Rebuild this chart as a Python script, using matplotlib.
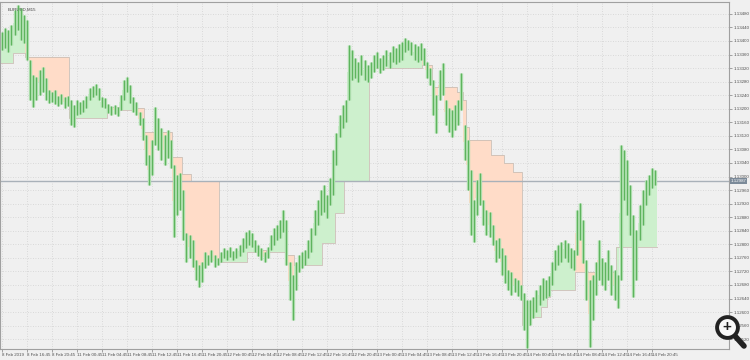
import numpy as np
import matplotlib.pyplot as plt
from matplotlib.lines import Line2D

plt.rcParams['font.family'] = ['Liberation Sans', 'DejaVu Sans']

# EURUSD 30-min bars (high / low)
highs = [1.13426, 1.13438, 1.13432, 1.13447, 1.13491, 1.13506, 1.13497, 1.13477, 1.13462, 1.13344,
         1.13300, 1.13294, 1.13314, 1.13323, 1.13291, 1.13255, 1.13249, 1.13255, 1.13238, 1.13244,
         1.13235, 1.13238, 1.13226, 1.13211, 1.13226, 1.13220, 1.13226, 1.13238, 1.13261, 1.13267,
         1.13273, 1.13261, 1.13235, 1.13232, 1.13214, 1.13208, 1.13211, 1.13205, 1.13241, 1.13285,
         1.13294, 1.13270, 1.13235, 1.13220, 1.13190, 1.13173, 1.13122, 1.13063, 1.13108, 1.13205,
         1.13173, 1.13143, 1.13122, 1.13137, 1.13108, 1.13034, 1.13004, 1.13010, 1.12960, 1.12833,
         1.12827, 1.12812, 1.12753, 1.12739, 1.12748, 1.12777, 1.12768, 1.12783, 1.12768, 1.12759,
         1.12777, 1.12789, 1.12783, 1.12792, 1.12780, 1.12789, 1.12798, 1.12818, 1.12836, 1.12842,
         1.12833, 1.12812, 1.12798, 1.12789, 1.12777, 1.12792, 1.12827, 1.12848, 1.12857, 1.12872,
         1.12901, 1.12872, 1.12748, 1.12709, 1.12748, 1.12768, 1.12777, 1.12783, 1.12812, 1.12848,
         1.12901, 1.12931, 1.12960, 1.12975, 1.12945, 1.12996, 1.13078, 1.13128, 1.13181, 1.13211,
         1.13226, 1.13388, 1.13373, 1.13350, 1.13338, 1.13359, 1.13344, 1.13329, 1.13338, 1.13359,
         1.13367, 1.13350, 1.13359, 1.13373, 1.13367, 1.13385, 1.13379, 1.13391, 1.13397, 1.13409,
         1.13403, 1.13397, 1.13391, 1.13385, 1.13394, 1.13379, 1.13338, 1.13320, 1.13285, 1.13241,
         1.13314, 1.13335, 1.13226, 1.13202, 1.13196, 1.13211, 1.13226, 1.13305, 1.13152, 1.13108,
         1.13019, 1.12931, 1.12990, 1.13010, 1.12931, 1.12901, 1.12895, 1.12857, 1.12812, 1.12818,
         1.12789, 1.12768, 1.12724, 1.12718, 1.12700, 1.12694, 1.12680, 1.12656, 1.12635, 1.12635,
         1.12644, 1.12665, 1.12680, 1.12700, 1.12694, 1.12706, 1.12748, 1.12783, 1.12798, 1.12807,
         1.12812, 1.12804, 1.12789, 1.12783, 1.12901, 1.12922, 1.12872, 1.12753, 1.12694, 1.12709,
         1.12748, 1.12812, 1.12759, 1.12748, 1.12783, 1.12739, 1.12724, 1.12709, 1.13093, 1.13078,
         1.13049, 1.12975, 1.12886, 1.12842, 1.12916, 1.12960, 1.12990, 1.13004, 1.13025, 1.13019]
lows = [1.13373, 1.13379, 1.13367, 1.13388, 1.13418, 1.13432, 1.13403, 1.13394, 1.13344, 1.13226,
        1.13205, 1.13226, 1.13241, 1.13249, 1.13226, 1.13217, 1.13220, 1.13214, 1.13208, 1.13214,
        1.13202, 1.13208, 1.13152, 1.13146, 1.13181, 1.13184, 1.13190, 1.13202, 1.13226, 1.13235,
        1.13241, 1.13226, 1.13205, 1.13202, 1.13187, 1.13181, 1.13184, 1.13179, 1.13196, 1.13226,
        1.13249, 1.13217, 1.13190, 1.13181, 1.13152, 1.13108, 1.13034, 1.12975, 1.13004, 1.13093,
        1.13078, 1.13049, 1.13034, 1.13055, 1.13025, 1.12821, 1.12886, 1.12901, 1.12812, 1.12748,
        1.12759, 1.12733, 1.12694, 1.12674, 1.12689, 1.12730, 1.12739, 1.12748, 1.12733, 1.12739,
        1.12748, 1.12759, 1.12753, 1.12762, 1.12753, 1.12759, 1.12765, 1.12777, 1.12789, 1.12798,
        1.12792, 1.12777, 1.12765, 1.12753, 1.12748, 1.12759, 1.12783, 1.12798, 1.12812, 1.12818,
        1.12836, 1.12739, 1.12635, 1.12576, 1.12665, 1.12718, 1.12730, 1.12739, 1.12759, 1.12777,
        1.12827, 1.12857, 1.12886, 1.12895, 1.12877, 1.12916, 1.12945, 1.13034, 1.13117, 1.13143,
        1.13161, 1.13226, 1.13285, 1.13291, 1.13279, 1.13300, 1.13285, 1.13279, 1.13291, 1.13308,
        1.13320, 1.13305, 1.13314, 1.13326, 1.13320, 1.13338, 1.13332, 1.13338, 1.13344, 1.13367,
        1.13373, 1.13359, 1.13344, 1.13338, 1.13344, 1.13329, 1.13291, 1.13270, 1.13181, 1.13128,
        1.13226, 1.13241, 1.13152, 1.13131, 1.13117, 1.13137, 1.13152, 1.13196, 1.13049, 1.12960,
        1.12827, 1.12807, 1.12886, 1.12916, 1.12857, 1.12827, 1.12821, 1.12798, 1.12748, 1.12759,
        1.12709, 1.12686, 1.12665, 1.12650, 1.12659, 1.12647, 1.12635, 1.12547, 1.12494, 1.12562,
        1.12582, 1.12600, 1.12621, 1.12635, 1.12641, 1.12647, 1.12680, 1.12724, 1.12739, 1.12748,
        1.12759, 1.12748, 1.12730, 1.12724, 1.12768, 1.12812, 1.12745, 1.12635, 1.12497, 1.12576,
        1.12650, 1.12694, 1.12680, 1.12665, 1.12694, 1.12650, 1.12635, 1.12612, 1.12694, 1.12931,
        1.12886, 1.12827, 1.12644, 1.12694, 1.12812, 1.12857, 1.12916, 1.12945, 1.12966, 1.12975]

# trailing stop: first bar of each step, level, side (1 = long/green, -1 = short/orange)
seg_start = [0, 4, 8, 22, 34, 38, 42, 46, 55, 58, 61, 70, 79, 82, 85, 91, 94, 103, 107, 110,
             118, 135, 138, 146, 148, 149, 150, 157, 161, 164, 167, 169, 173, 175, 176, 184, 197, 202, 204]
seg_level = [1.13335, 1.13364, 1.13353, 1.13173, 1.13205, 1.13196, 1.13202, 1.13131, 1.13058, 1.13007,
             1.12987, 1.12748, 1.12777, 1.12783, 1.12777, 1.12768, 1.12739, 1.12804, 1.12892, 1.12987,
             1.13320, 1.13329, 1.13264, 1.13249, 1.13226, 1.13146, 1.13108, 1.13063, 1.13040, 1.13013,
             1.12562, 1.12585, 1.12615, 1.12644, 1.12665, 1.12718, 1.12792, 1.12792, 1.12792]
seg_dir = [1, 1, -1, 1, -1, 1, -1, -1, -1, -1, -1, 1, 1, -1, 1, -1, 1, 1, 1, 1,
           1, -1, -1, -1, -1, -1, -1, -1, -1, -1, 1, 1, 1, 1, 1, -1, 1, -1, 1]

last_price = 1.12987
ytick_vals = [1.13480 - 0.0004 * k for k in range(25)]
xtick_labels = ['8 Feb 2019', '8 Feb 16:45', '8 Feb 20:45',
                '11 Feb 00:45', '11 Feb 04:45', '11 Feb 08:45', '11 Feb 12:45', '11 Feb 16:45', '11 Feb 20:45',
                '12 Feb 00:45', '12 Feb 04:45', '12 Feb 08:45', '12 Feb 12:45', '12 Feb 16:45', '12 Feb 20:45',
                '13 Feb 00:45', '13 Feb 04:45', '13 Feb 08:45', '13 Feb 12:45', '13 Feb 16:45', '13 Feb 20:45',
                '14 Feb 00:45', '14 Feb 04:45', '14 Feb 08:45', '14 Feb 12:45', '14 Feb 16:45', '14 Feb 20:45']

bg = '#f0f0f0'
green_fill = '#cdf0cd'
orange_fill = '#ffdcc8'

highs = np.array(highs)
lows = np.array(lows)
n = len(highs)
x = np.arange(n)
mid = (highs + lows) / 2
seg_idx = np.searchsorted(seg_start, x, side='right') - 1
stop = np.array(seg_level)[seg_idx]

fig = plt.figure(figsize=(7.5, 3.6), dpi=100, facecolor=bg)
ax = fig.add_axes([0.0, 11 / 360, 729 / 750, 347 / 360], facecolor=bg)

# fills between stop and price
seg_end = seg_start[1:] + [n]
for s, e, lev, d in zip(seg_start, seg_end, seg_level, seg_dir):
    xs = np.arange(s, e)
    xe = np.repeat(xs, 2) + np.tile([-0.5, 0.5], len(xs))
    ye = np.repeat(mid[s:e], 2)
    ax.fill_between(xe, ye, lev, color=green_fill if d > 0 else orange_fill, lw=0, zorder=1)

# stop line
xe = np.repeat(x, 2) + np.tile([-0.5, 0.5], n)
ax.plot(xe, np.repeat(stop, 2), color='#cbbfb6', lw=0.6, zorder=2)

# bars
ax.vlines(x, lows, highs, color='#aadcaa', lw=2.4, zorder=3)
ax.vlines(x, lows, highs, color='#5cb35c', lw=0.7, zorder=4)

# current price line
ax.axhline(last_price, color='#a9b1b9', lw=1.0, zorder=2)

ax.set_xlim(-0.64, 232.64)
ax.set_ylim(1.12491, 1.13515)

ax.set_xticks(np.arange(0, 8 * len(xtick_labels), 8))
ax.set_xticklabels(xtick_labels, fontsize=3.2, color='#505050', ha='left')
ax.set_yticks(ytick_vals)
ax.set_yticklabels(['%.5f' % v for v in ytick_vals], fontsize=3.2, color='#505050')
ax.yaxis.tick_right()
ax.tick_params(axis='both', length=2, width=0.5, color='#808080', pad=1)
ax.grid(True, color='#d2d2d2', lw=0.6, linestyle=(0, (1, 2)), zorder=0)
ax.set_axisbelow(True)
for sp in ax.spines.values():
    sp.set_color('#a0a0a0')
    sp.set_linewidth(0.8)

ax.text(0.011, 0.985, 'EURUSD,M15', transform=ax.transAxes, fontsize=3.2,
        color='#404040', va='top', ha='left')
ax.text(1.002, last_price, '%.5f' % last_price, transform=ax.get_yaxis_transform(),
        fontsize=3.2, color='white', va='center', ha='left',
        bbox=dict(boxstyle='square,pad=0.2', fc='#7b8a99', ec='none'), zorder=10)

# magnifier icon overlay in the bottom right corner
fig.lines.append(Line2D([735 / 750, 744 / 750], [1 - 336 / 360, 1 - 346 / 360],
                        transform=fig.transFigure, color='#222222', lw=4, solid_capstyle='round', zorder=20))
fig.lines.append(Line2D([727 / 750], [1 - 327 / 360], transform=fig.transFigure, marker='o',
                        markersize=15, mfc='#f8f8f8', mec='#222222', mew=2.8, zorder=21))
fig.text(727 / 750, 1 - 327.5 / 360, '+', fontsize=11, fontweight='bold', color='#222222',
         ha='center', va='center', zorder=22)

fig.savefig('out.png', dpi=100, facecolor=bg)
